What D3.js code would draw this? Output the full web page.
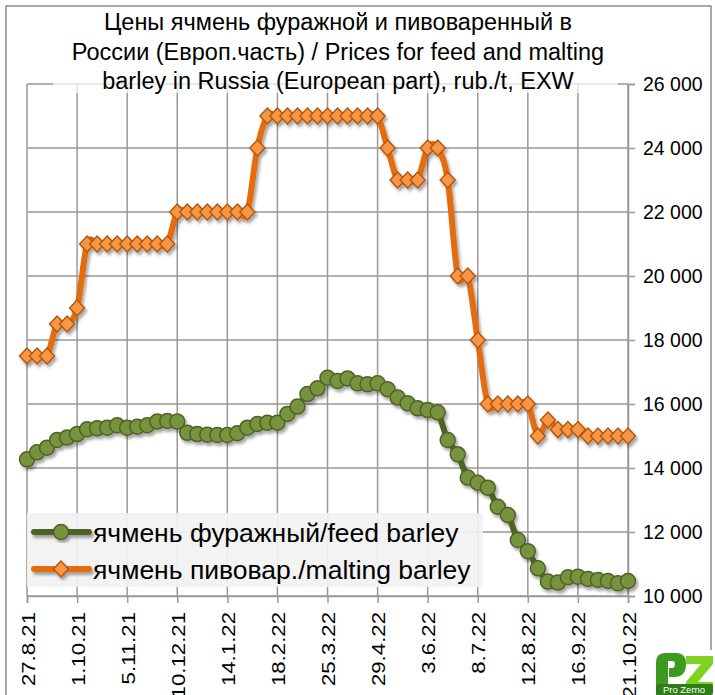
<!DOCTYPE html>
<html>
<head>
<meta charset="utf-8">
<script src="https://cdn.jsdelivr.net/npm/d3@7"></script>
<style>
  body { margin: 0; background: #fff; }
  text { font-family: "Liberation Sans", Arial, sans-serif; fill: #000; }
</style>
</head>
<body>
<div id="chart"></div>
<script>
// weekly prices, rub./t, from 27.8.21 to 21.10.22
let start_date = "27.8.21";
let feed = [14270, 14490, 14635, 14875, 14950, 15060, 15210, 15240, 15260, 15335,
    15260, 15290, 15335, 15450, 15470, 15450, 15100, 15060, 15040, 15030,
    15030, 15085, 15260, 15375, 15415, 15415, 15690, 15920, 16310, 16490,
    16820, 16720, 16800, 16645, 16615, 16645, 16460, 16200, 16020, 15865,
    15810, 15740, 14875, 14430, 13700, 13540, 13385, 12790, 12530, 11750,
    11400, 10865, 10450, 10420, 10585, 10605, 10530, 10500, 10470, 10395,
    10470];
let malting = [17500, 17500, 17500, 18500, 18500, 19000, 21000, 21000, 21000, 21000,
    21000, 21000, 21000, 21000, 21000, 22000, 22000, 22000, 22000, 22000,
    22000, 22000, 22000, 24000, 25000, 25000, 25000, 25000, 25000, 25000,
    25000, 25000, 25000, 25000, 25000, 25000, 24000, 23000, 23000, 23000,
    24000, 24000, 23000, 20000, 20000, 18000, 16000, 16000, 16000, 16000,
    16000, 15000, 15500, 15200, 15200, 15200, 15000, 15000, 15000, 15000,
    15000];
let tick_labels = ["27.8.21", "1.10.21", "5.11.21", "10.12.21", "14.1.22", "18.2.22",
    "25.3.22", "29.4.22", "3.6.22", "8.7.22", "12.8.22", "16.9.22", "21.10.22"];
let y_ticks = [10000, 12000, 14000, 16000, 18000, 20000, 22000, 24000, 26000];
let title_lines = ["Цены ячмень фуражной и пивоваренный в",
    "России (Европ.часть) / Prices for feed and malting",
    "barley in Russia (European part), rub./t, EXW"];
let legend_names = ["ячмень фуражный/feed barley", "ячмень пивовар./malting barley"];

const W = 715, H = 695;
const plot = {left: 27, right: 628, top: 84, bottom: 596};

const parseDate = d3.utcParse("%d.%m.%y");
const t0 = parseDate(start_date);
const dates = feed.map((v, i) => d3.utcDay.offset(t0, 7 * i));
const tickDates = tick_labels.map(s => parseDate(s));

let svg = d3.select("#chart").append("svg")
    .attr("width", W)
    .attr("height", H);

let defs = svg.append("defs");
defs.append("filter")
    .attr("id", "shadow")
    .attr("x", "-20%").attr("y", "-20%")
    .attr("width", "140%").attr("height", "140%")
    .append("feDropShadow")
    .attr("dx", 2).attr("dy", 3)
    .attr("stdDeviation", 1.8)
    .attr("flood-color", "#000")
    .attr("flood-opacity", 0.35);

let x = d3.scaleUtc()
    .domain([dates[0], dates[dates.length - 1]])
    .range([plot.left, plot.right]);

let y = d3.scaleLinear()
    .domain([10000, 26000])
    .range([plot.bottom, plot.top]);

// outer frame
svg.append("rect")
    .attr("x", 6).attr("y", 6)
    .attr("width", 705).attr("height", 700)
    .attr("fill", "none")
    .attr("stroke", "#8c8c8c")
    .attr("stroke-width", 1.5);

// grid
let grid = svg.append("g");
grid.selectAll("line.h").data(y_ticks).enter()
    .append("line")
    .attr("x1", plot.left).attr("x2", plot.right)
    .attr("y1", d => y(d)).attr("y2", d => y(d))
    .attr("stroke", "#999").attr("stroke-width", 1.5);
grid.selectAll("line.v").data(tickDates).enter()
    .append("line")
    .attr("x1", d => x(d)).attr("x2", d => x(d))
    .attr("y1", plot.top).attr("y2", plot.bottom)
    .attr("stroke", "#999").attr("stroke-width", 1.5);

// right axis
let yAxis = svg.append("g")
    .attr("transform", `translate(${plot.right},0)`)
    .call(d3.axisRight(y).tickValues(y_ticks).tickSize(7).tickPadding(8)
        .tickFormat(d => d3.format(",")(d).replace(",", " ")));
yAxis.select(".domain").attr("stroke", "#999").attr("stroke-width", 1.5);
yAxis.selectAll(".tick line").attr("stroke", "#999").attr("stroke-width", 1.5);
yAxis.selectAll("text").style("font-size", "19.5px").attr("fill", "#000");

// bottom axis
let xAxis = svg.append("g")
    .attr("transform", `translate(0,${plot.bottom})`)
    .call(d3.axisBottom(x).tickValues(tickDates).tickSize(7)
        .tickFormat((d, i) => tick_labels[i]));
xAxis.select(".domain").attr("stroke", "#999").attr("stroke-width", 1.5);
xAxis.selectAll(".tick line").attr("stroke", "#999").attr("stroke-width", 1.5);
xAxis.selectAll("text")
    .style("font-size", "19px")
    .attr("fill", "#000")
    .attr("text-anchor", "end")
    .attr("dy", null)
    .attr("y", 0)
    .attr("transform", "translate(7,16) rotate(-90) scale(1.17,1)");

// title with half transparent backing
svg.append("rect")
    .attr("x", 53).attr("y", 7)
    .attr("width", 565).attr("height", 86)
    .attr("fill", "#fff").attr("opacity", 0.7);
svg.append("g").selectAll("text").data(title_lines).enter()
    .append("text")
    .attr("x", 338)
    .attr("y", (d, i) => 30 + i * 29.5)
    .attr("text-anchor", "middle")
    .style("font-size", "23.5px")
    .text(d => d);

// series
let line = d3.line()
    .x((d, i) => x(dates[i]))
    .y(d => y(d))
    .curve(d3.curveCatmullRom.alpha(0));

let diamond = "M0,-8L7.5,0L0,8L-7.5,0Z";

let feedG = svg.append("g").attr("filter", "url(#shadow)");
feedG.append("path")
    .datum(feed)
    .attr("d", line)
    .attr("fill", "none")
    .attr("stroke", "#4f6228")
    .attr("stroke-width", 6);
feedG.selectAll("circle").data(feed).enter()
    .append("circle")
    .attr("cx", (d, i) => x(dates[i]))
    .attr("cy", d => y(d))
    .attr("r", 7.5)
    .attr("fill", "#77933c")
    .attr("stroke", "#4f6228")
    .attr("stroke-width", 1.5);

let maltG = svg.append("g").attr("filter", "url(#shadow)");
maltG.append("path")
    .datum(malting)
    .attr("d", line)
    .attr("fill", "none")
    .attr("stroke", "#e46c0a")
    .attr("stroke-width", 6);
maltG.selectAll("path.m").data(malting).enter()
    .append("path")
    .attr("class", "m")
    .attr("d", diamond)
    .attr("transform", (d, i) => `translate(${x(dates[i])},${y(d)})`)
    .attr("fill", "#f79646")
    .attr("stroke", "#b65708")
    .attr("stroke-width", 1.5);

// legend
let legend = svg.append("g");
legend.append("rect")
    .attr("x", 27).attr("y", 513)
    .attr("width", 456).attr("height", 74)
    .attr("fill", "#f2f2f2").attr("opacity", 0.92);
let legendY = [532, 569];
let lg1 = legend.append("g").attr("filter", "url(#shadow)");
lg1.append("line")
    .attr("x1", 34).attr("x2", 89)
    .attr("y1", legendY[0]).attr("y2", legendY[0])
    .attr("stroke", "#4f6228").attr("stroke-width", 6)
    .attr("stroke-linecap", "round");
lg1.append("circle")
    .attr("cx", 61).attr("cy", legendY[0]).attr("r", 7.5)
    .attr("fill", "#77933c").attr("stroke", "#4f6228").attr("stroke-width", 1.5);
let lg2 = legend.append("g").attr("filter", "url(#shadow)");
lg2.append("line")
    .attr("x1", 34).attr("x2", 89)
    .attr("y1", legendY[1]).attr("y2", legendY[1])
    .attr("stroke", "#e46c0a").attr("stroke-width", 6)
    .attr("stroke-linecap", "round");
lg2.append("path")
    .attr("d", diamond)
    .attr("transform", `translate(61,${legendY[1]})`)
    .attr("fill", "#f79646").attr("stroke", "#b65708").attr("stroke-width", 1.5);
legend.selectAll("text").data(legend_names).enter()
    .append("text")
    .attr("x", 93)
    .attr("y", (d, i) => legendY[i] + 10)
    .style("font-size", "26.5px")
    .text(d => d);

// ProZerno logo
let logo = svg.append("g").attr("transform", "translate(652,650)");
logo.append("rect")
    .attr("x", 0).attr("y", 0).attr("width", 63).attr("height", 45)
    .attr("fill", "#fff");
// P
logo.append("path")
    .attr("d", "M4,45 L4,12 Q4,3 14,3 L24,3 Q34,3 34,14 Q34,27 22,27 L17,27 L17,18 L20,18 Q23,18 23,14 Q23,11 20,11 L16,11 L16,45 Z")
    .attr("fill", "#3c9a1e");
// Z
logo.append("path")
    .attr("d", "M34,6 L61,6 L61,14 L46,32 L61,32 L61,40 L34,40 L34,32 L49,14 L34,14 Z")
    .attr("fill", "#7ed321");
logo.append("rect")
    .attr("x", 4).attr("y", 34).attr("width", 57).attr("height", 11)
    .attr("rx", 2)
    .attr("fill", "#2f7d16");
logo.append("text")
    .attr("x", 32).attr("y", 43)
    .attr("text-anchor", "middle")
    .style("font-size", "9.5px")
    .style("fill", "#fff")
    .text("Pro Zerno");
</script>
</body>
</html>
